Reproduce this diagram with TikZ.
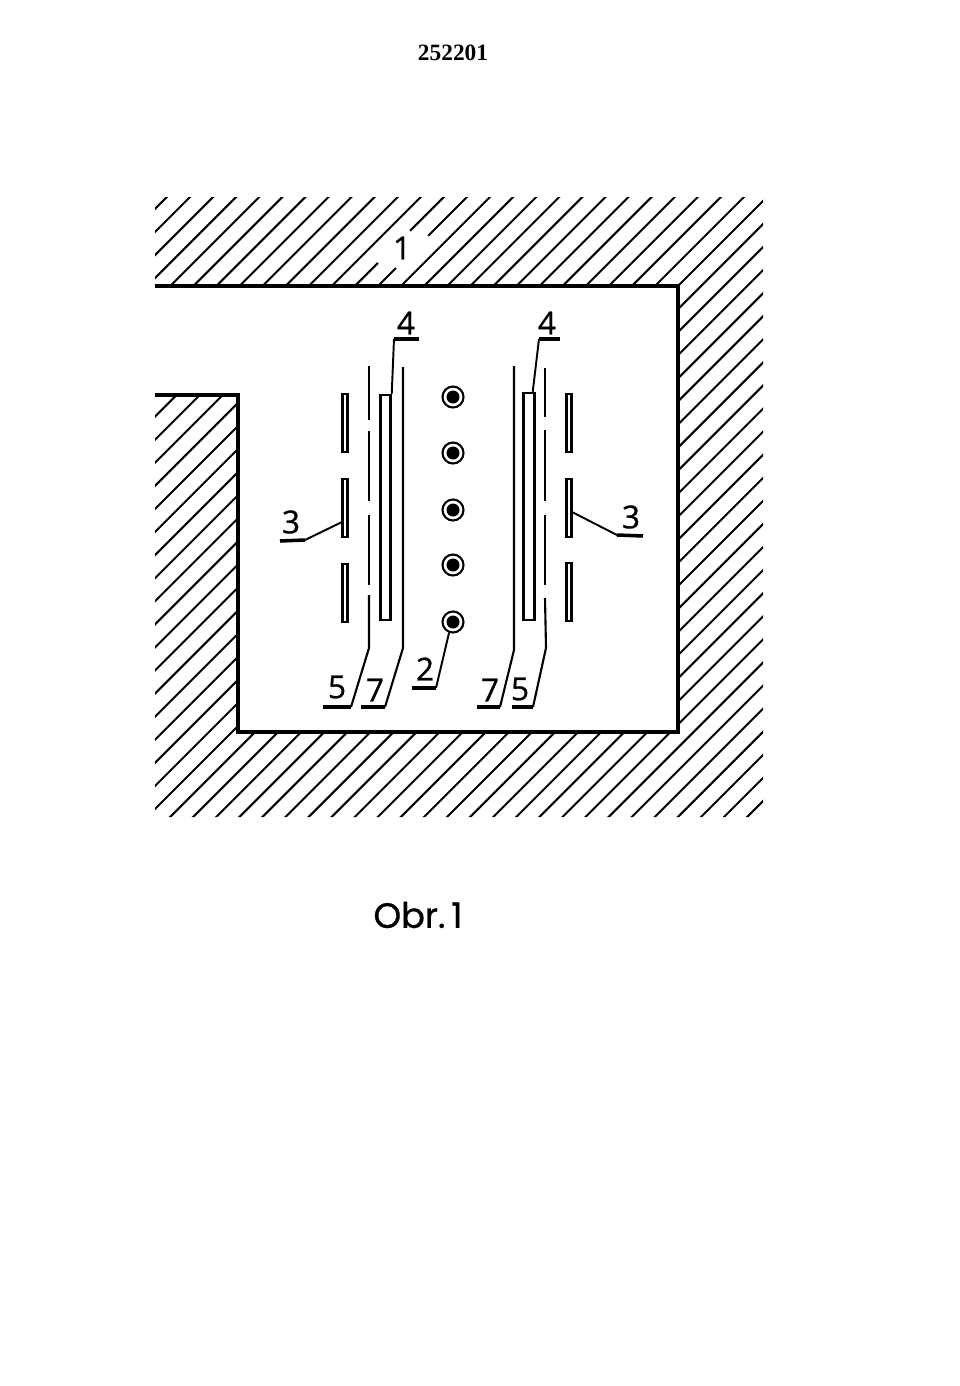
\documentclass[tikz,border=0pt]{standalone}
\usepackage{fontspec}
\newfontfamily\numfont[FakeBold=0.8]{Open Sans}
\newfontfamily\captfont[FakeBold=0.8]{Poppins}
\newfontfamily\patfont{Liberation Serif}
\def\px{0.02cm}
\tikzset{wall/.style={line width=1.72pt,line join=miter},
  hatch/.style={line width=1.15pt},
  gapline/.style={white,line width=4pt},
  leader/.style={line width=1.1pt},
  under/.style={line width=2pt},
  grid/.style={line width=1.2pt},
  plate/.style={draw,line width=1.4pt,fill=white,inner sep=0pt,minimum width=10*\px,minimum height=225*\px},
  shield/.style={draw,line width=1.2pt,fill=white,inner sep=0pt,minimum width=5*\px,minimum height=58*\px},
  wire/.style={draw,circle,line width=1.2pt,inner sep=0pt,minimum size=21*\px},
  num/.style={inner sep=0pt,font=\numfont\fontsize{18}{18}\selectfont}}

\begin{document}
\begin{tikzpicture}[x=0.02cm,y=-0.02cm]
\useasboundingbox (0,0) rectangle (960,1386);
% hatching
\begin{scope}
\clip (155,197) -- (763,197) -- (763,817) -- (155,817) -- (155,395) -- (238,395) -- (238,732) -- (678,732) -- (678,286) -- (155,286) -- cycle;
\foreach \k in {-1,...,51} {
  \pgfmathsetmacro\c{387+23.08*\k}
  \draw[hatch] (\c-100,100) -- (\c-900,900);
}
\end{scope}
\draw[gapline] (378,263) -- (410,231);
\draw[gapline] (396,268) -- (428,236);
\draw[wall] (155,286) -- (678,286) -- (678,732) -- (238,732) -- (238,395) -- (155,395);
\node[num] (n1) at (402,248) {1};
% shields
\node[shield] (sl1) at (345,423) {};
\node[shield] (sl2) at (345,508) {};
\node[shield] (sl3) at (345,593) {};
\node[shield] (sr1) at (569,423) {};
\node[shield] (sr2) at (569,508) {};
\node[shield] (sr3) at (569,592) {};
% plates
\node[plate] (pl) at (385.5,507.5) {};
\node[plate,minimum width=11*\px,minimum height=227*\px] (pr) at (529,506.5) {};
% wires
\foreach \i/\y in {1/397,2/453,3/510,4/565,5/622} {
  \node[wire] (w\i) at (453,\y) {};
  \fill (w\i) circle[radius=6.5];
}
% grid 5
\coordinate (gl0) at (369,366);
\coordinate (gl1) at (369,420);
\coordinate (gl2) at (369,431);
\coordinate (gl3) at (369,501);
\coordinate (gl4) at (369,515);
\coordinate (gl5) at (369,585);
\coordinate (gl6) at (369,595);
\coordinate (gl7) at (369,648);
\coordinate (gl8) at (351,707);
\coordinate (gl9) at (323,707);
\draw[grid] (gl0) -- (gl1);
\draw[grid] (gl2) -- (gl3);
\draw[grid] (gl4) -- (gl5);
\draw[grid] (gl6) -- (gl7) -- (gl8);
\draw[under] (gl8) -- (gl9);
\coordinate (gr0) at (545,368);
\coordinate (gr1) at (545,417);
\coordinate (gr2) at (545,430);
\coordinate (gr3) at (545,501);
\coordinate (gr4) at (545,515);
\coordinate (gr5) at (545,585);
\coordinate (gr6) at (545,598);
\coordinate (gr7) at (546,648);
\coordinate (gr8) at (533,707);
\coordinate (gr9) at (512,707);
\draw[grid] (gr0) -- (gr1);
\draw[grid] (gr2) -- (gr3);
\draw[grid] (gr4) -- (gr5);
\draw[grid] (gr6) -- (gr7) -- (gr8);
\draw[under] (gr8) -- (gr9);
% tubes 7
\coordinate (tl0) at (403,367);
\coordinate (tl1) at (403,648);
\coordinate (tl2) at (385,707);
\coordinate (tl3) at (361,707);
\draw[grid] (tl0) -- (tl1) -- (tl2);
\draw[under] (tl2) -- (tl3);
\coordinate (tr0) at (514,366);
\coordinate (tr1) at (514,650);
\coordinate (tr2) at (500,707);
\coordinate (tr3) at (477,707);
\draw[grid] (tr0) -- (tr1) -- (tr2);
\draw[under] (tr2) -- (tr3);
% leaders
\coordinate (a4l) at (394,339);
\coordinate (b4l) at (419,339);
\draw[leader] (pl.north east) -- (a4l);
\draw[under] (a4l) -- (b4l);
\coordinate (a4r) at (539,339);
\coordinate (b4r) at (560,339);
\draw[leader] (pr.north east) ++(-3,0) -- (a4r);
\draw[under] (a4r) -- (b4r);
\coordinate (s3l) at (342,522);
\coordinate (a3l) at (305,540);
\coordinate (b3l) at (280,541);
\draw[leader] (s3l) -- (a3l);
\draw[under] (a3l) -- (b3l);
\coordinate (s3r) at (572,512);
\coordinate (a3r) at (617,535);
\coordinate (b3r) at (643,536);
\draw[leader] (s3r) -- (a3r);
\draw[under] (a3r) -- (b3r);
\coordinate (a2) at (436,688);
\coordinate (b2) at (412,688);
\draw[leader] (w5.-110) -- (a2);
\draw[under] (a2) -- (b2);
% labels
\node[num] (n4l) at (406,323) {4};
\node[num] (n4r) at (547,323) {4};
\node[num] (n3l) at (291,522) {3};
\node[num] (n3r) at (631,517) {3};
\node[num] (n5l) at (337,687) {5};
\node[num] (n7l) at (375,690) {7};
\node[num] (n2) at (425,669) {2};
\node[num] (n7r) at (490,690) {7};
\node[num] (n5r) at (520,689) {5};
% texts
\node[inner sep=0pt,font=\patfont\bfseries\fontsize{13.3}{13}\selectfont] (patno) at (453,53) {252201};
\node[inner sep=0pt,font=\captfont\fontsize{20}{20}\selectfont] (capt) at (418,915) {Obr.\,1};
\end{tikzpicture}
\end{document}
